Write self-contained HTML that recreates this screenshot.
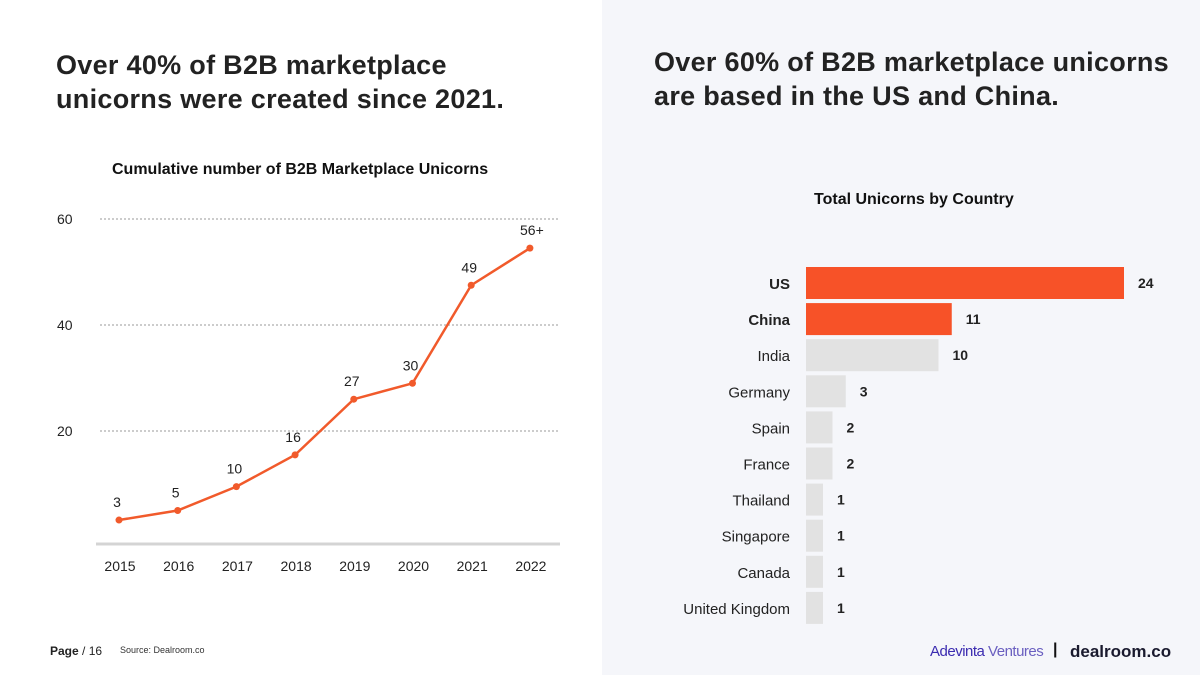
<!DOCTYPE html>
<html><head><meta charset="utf-8"><style>
body{margin:0;width:1200px;height:675px;overflow:hidden;font-family:"Liberation Sans",sans-serif;background:#fff;position:relative}
.right{position:absolute;left:602px;top:0;width:598px;height:675px;background:#f5f6fa}
.h{position:absolute;font-weight:bold;font-size:27px;line-height:34px;color:#222;letter-spacing:0.3px}
.t{position:absolute;font-weight:bold;font-size:16px;color:#111}
</style></head><body>
<div class="right"></div>
<div class="h" style="left:56px;top:48px">Over 40% of B2B marketplace<br>unicorns were created since 2021.</div>
<div class="h" style="left:654px;top:45px">Over 60% of B2B marketplace unicorns<br>are based in the US and China.</div>
<div class="t" style="left:112px;top:161px">Cumulative number of B2B Marketplace Unicorns</div>
<div class="t" style="left:814px;top:191px">Total Unicorns by Country</div>
<svg id="line" width="600" height="675" style="position:absolute;left:0;top:0"></svg>
<svg id="bars" width="600" height="675" style="position:absolute;left:600px;top:0"></svg>
<div style="position:absolute;left:50px;top:644px;font-size:12px;color:#222"><b>Page</b> / 16</div>
<div style="position:absolute;left:120px;top:645px;font-size:9px;color:#333">Source: Dealroom.co</div>
<div style="position:absolute;left:930px;top:643px;font-size:15px;color:#3b2bb0;letter-spacing:-0.5px">Adevinta <span style="color:#6a5fc0">Ventures</span></div>
<div style="position:absolute;left:1053px;top:641px;font-size:16px;font-weight:bold;color:#111">|</div>
<div style="position:absolute;left:1070px;top:642px;font-size:17px;font-weight:bold;color:#1a1a2e">dealroom.co</div>
<script>
const years=["2015","2016","2017","2018","2019","2020","2021","2022"];
const cumValues=[3.2,5,9.5,15.5,26,29,47.5,54.5];
const valueLabels=["3","5","10","16","27","30","49","56+"];
const yTicks=[20,40,60];
const countries=["US","China","India","Germany","Spain","France","Thailand","Singapore","Canada","United Kingdom"];
const counts=[24,11,10,3,2,2,1,1,1,1];
const highlighted=[true,true,false,false,false,false,false,false,false,false];
const NS="http://www.w3.org/2000/svg";
function mk(svg,tag,attrs,text){const e=document.createElementNS(NS,tag);for(const k in attrs)e.setAttribute(k,attrs[k]);if(text!==undefined)e.textContent=text;svg.appendChild(e);return e;}
const L=document.getElementById('line');
const xS=i=>119+i*58.7, yS=v=>537-v*5.3;
yTicks.forEach(t=>{
 const g=mk(L,'line',{x1:100,x2:560,y1:yS(t),y2:yS(t),stroke:'#ccc','stroke-width':2,'stroke-dasharray':'2,2'});
 
 const tx=mk(L,'text',{x:57,y:yS(t)+5,'font-size':14,fill:'#222','font-family':'Liberation Sans'},t);
 
});
const ax=mk(L,'line',{x1:96,x2:560,y1:544,y2:544,stroke:'#d4d4d4','stroke-width':3});

const pl=mk(L,'polyline',{points:cumValues.map((v,i)=>xS(i)+','+yS(v)).join(' '),fill:'none',stroke:'#f15a2b','stroke-width':2.5});

years.forEach((y,i)=>{
 const c=mk(L,'circle',{cx:xS(i),cy:yS(cumValues[i]),r:3.5,fill:'#f15a2b'});
 
 const lb=mk(L,'text',{x:xS(i)+(i==7?4:0)-2,y:yS(cumValues[i])-13,'text-anchor':'middle','font-size':14,fill:'#222','font-family':'Liberation Sans'},valueLabels[i]);
 
 const xt=mk(L,'text',{x:xS(i)+1,y:571,'text-anchor':'middle','font-size':14,fill:'#222','font-family':'Liberation Sans'},y);
 
});
const B=document.getElementById('bars');
const x0=206, sc=13.25, rowY=i=>267+i*36.1;
countries.forEach((c,i)=>{
 const w=counts[i]*sc, y=rowY(i);
 const r=mk(B,'rect',{x:x0,y:y,width:Math.max(w,17),height:32,fill:highlighted[i]?'#f75228':'#e2e2e2'});
 
 const lb=mk(B,'text',{x:190,y:y+22,'text-anchor':'end','font-size':15,fill:'#222','font-weight':highlighted[i]?'bold':'normal','font-family':'Liberation Sans'},c);
 
 const v=mk(B,'text',{x:x0+Math.max(w,17)+14,y:y+21,'font-size':14,fill:'#222','font-weight':'bold','font-family':'Liberation Sans'},counts[i]);
 
});
</script>
</body></html>
